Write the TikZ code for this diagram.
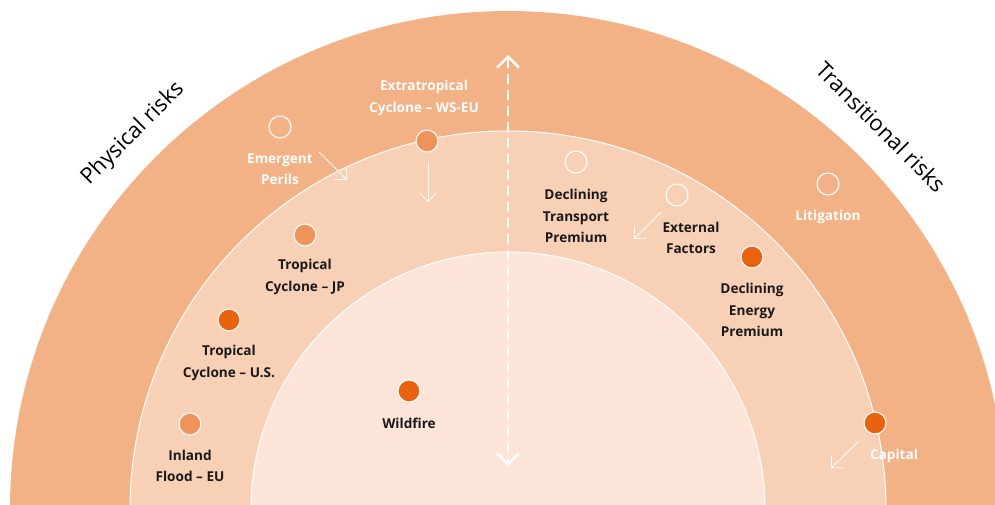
\documentclass[tikz,border=0pt]{standalone}
\usepackage{fontspec}
\setmainfont{Open Sans}
\usetikzlibrary{arrows.meta}
\definecolor{ringout}{HTML}{F3B186}
\definecolor{ringmid}{HTML}{F8D0B6}
\definecolor{ringin}{HTML}{FCE5D8}
\definecolor{dotdark}{HTML}{E9620E}
\definecolor{dotmid}{HTML}{F0935A}
\tikzset{
  dotbase/.style={circle,draw=white,line width=1.1pt,minimum size=22pt,inner sep=0pt},
  darkdot/.style={dotbase,fill=dotdark},
  middot/.style={dotbase,fill=dotmid},
  hollow/.style={dotbase,fill=none},
  lbl/.style={align=center,font=\fontsize{13.6}{21.5}\selectfont\bfseries,text=black!90,inner sep=0pt},
  wlbl/.style={lbl,text=white},
  title/.style={font=\fontsize{22}{26}\selectfont,text=black,inner sep=0pt},
  move/.style={draw=white,line width=0.8pt,-{Straight Barb[length=8pt,width=16pt,line width=0.8pt]}},
}
\begin{document}
\begin{tikzpicture}[x=1pt,y=-1pt]
\useasboundingbox (0,0) rectangle (995,504);
\begin{scope}
\clip (0,0) rectangle (995,504);
\fill[ringout] (508,509) circle[radius=498pt];
\fill[ringmid,draw=white,line width=1pt] (508,509) circle[radius=378pt];
\fill[ringin,draw=white,line width=1pt] (508,509) circle[radius=257pt];
\end{scope}
% vertical dashed axis
\coordinate (axtop) at (508,55);
\coordinate (axbot) at (508,466);
\draw[white,line width=2.4pt,dash pattern=on 10pt off 6pt,{Straight Barb[length=11pt,width=22pt,line width=2.4pt]}-{Straight Barb[length=11pt,width=22pt,line width=2.4pt]}] (axtop) -- (axbot);
% titles
\node[title,rotate=45] (phys) at (133,134) {Physical risks};
\node[title,rotate=-45] (trans) at (881,127) {Transitional risks};
% physical risks
\node[hollow] (ep) at (280,127) {};
\node[wlbl] (eplbl) at (280,169) {Emergent\\Perils};
\coordinate (epa1) at (319,152);
\coordinate (epa2) at (347,180);
\draw[move] (epa1) -- (epa2);

\node[middot] (etc) at (427,141) {};
\node[wlbl] (etclbl) at (424,98) {Extratropical\\Cyclone -- WS-EU};
\coordinate (etca1) at (428,163);
\coordinate (etca2) at (428,202);
\draw[move] (etca1) -- (etca2);

\node[middot] (tcjp) at (305,235) {};
\node[lbl] (tcjplbl) at (305,277) {Tropical\\Cyclone -- JP};

\node[darkdot] (tcus) at (229,320) {};
\node[lbl] (tcuslbl) at (229,363) {Tropical\\Cyclone -- U.S.};

\node[middot] (ifeu) at (190,424) {};
\node[lbl] (ifeulbl) at (190,466) {Inland\\Flood -- EU};

\node[darkdot] (wf) at (409,391) {};
\node[lbl] (wflbl) at (409,423) {Wildfire};

% transitional risks
\node[hollow] (dtp) at (576,162) {};
\node[lbl] (dtplbl) at (576,216) {Declining\\Transport\\Premium};

\node[hollow] (ef) at (677,195) {};
\node[lbl] (eflbl) at (691,238) {External\\Factors};
\coordinate (efa1) at (661,212);
\coordinate (efa2) at (634,239);
\draw[move] (efa1) -- (efa2);

\node[darkdot] (dep) at (752,257) {};
\node[lbl] (deplbl) at (752,310) {Declining\\Energy\\Premium};

\node[hollow] (lit) at (828,184) {};
\node[wlbl] (litlbl) at (828,217) {Litigation};

\node[darkdot] (cap) at (875,423) {};
\node[wlbl] (caplbl) at (894,456) {Capital};
\coordinate (capa1) at (859,441);
\coordinate (capa2) at (831,468);
\draw[move] (capa1) -- (capa2);
\end{tikzpicture}
\end{document}
